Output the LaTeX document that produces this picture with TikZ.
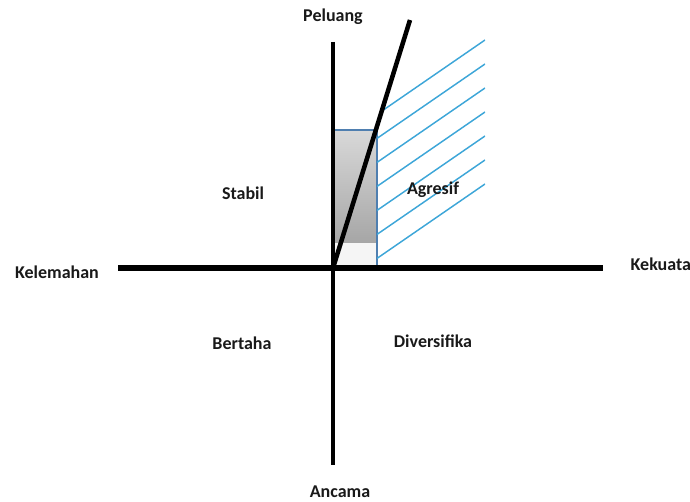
\documentclass[tikz,border=0pt]{standalone}
\usepackage{fontspec}
\setmainfont{Carlito}
\begin{document}
\begin{tikzpicture}[x=0.75pt,y=-0.75pt, every node/.style={font=\bfseries\fontsize{13.5}{15}\selectfont, text=black!90}]
  \definecolor{hatchBlue}{HTML}{3DA6D8}
  \definecolor{boxBlue}{HTML}{4F7FB0}
  \useasboundingbox (0,0) rectangle (690,502);
  % axes end points
  \coordinate (O) at (333,268);
  \coordinate (W) at (118,268);
  \coordinate (E) at (603,268);
  \coordinate (N) at (333,42);
  \coordinate (S) at (333,465);
  \coordinate (T) at (410,20);
  % shaded box
  \shade[top color=gray!30, bottom color=gray!70] (333,130) rectangle (377,243);
  \fill[gray!8] (333,243) rectangle (377,268);
  \draw[boxBlue, line width=0.9pt] (333,268) rectangle (377,130);
  % hatching right of the box
  \begin{scope}
    \clip (377,268) -- (377,127) -- (T) -- (485,20) -- (485,268) -- cycle;
    \foreach \yr in {40,64,88,112,136,160,184}{
      \draw[hatchBlue, line width=1.1pt] (485,\yr) -- +(-180,124);
    }
  \end{scope}
  % axes
  \draw[line width=3.8pt] (W) -- (E);
  \draw[line width=2.8pt] (N) -- (S);
  \draw[line width=3.4pt] (O) -- (T);
  % labels
  \node (peluang) at (333,17) {Peluang};
  \node (ancaman) at (340,492) {Ancama};
  \node (kelemahan) at (57,272) {Kelemahan};
  \node[anchor=west] (kekuatan) at (626,264) {Kekuata};
  \node (stabil) at (243,193) {Stabil};
  \node (agresif) at (433,190) {Agresif};
  \node (bertahan) at (242,343) {Bertaha};
  \node (diversifikasi) at (433,341) {Diversifika};
\end{tikzpicture}
\end{document}
